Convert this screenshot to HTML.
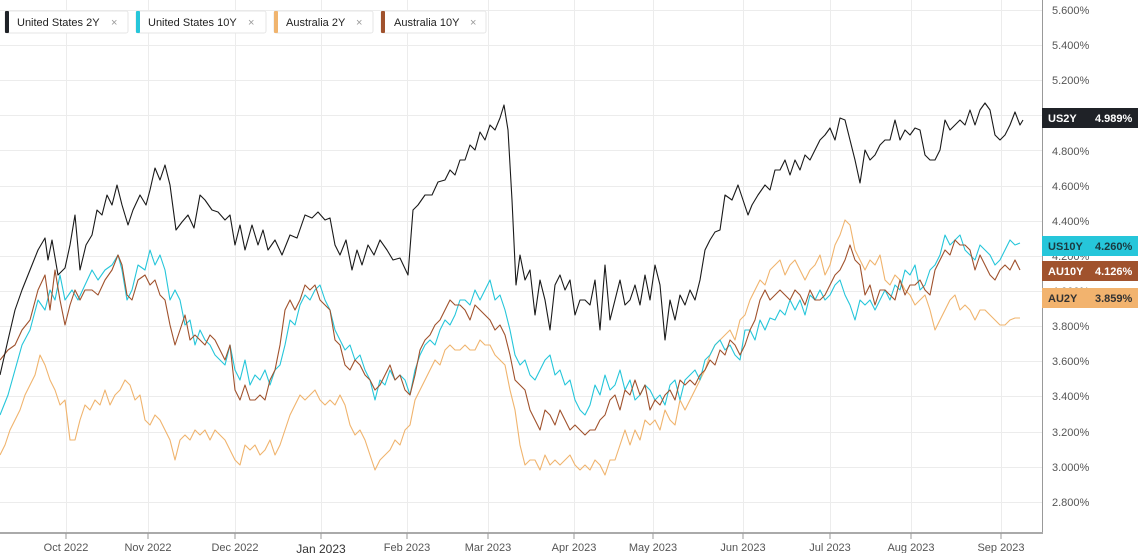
<!DOCTYPE html>
<html><head><meta charset="utf-8"><style>
body{margin:0;background:#fff;font-family:"Liberation Sans",sans-serif;}
svg{display:block}
</style></head><body>
<svg width="1138" height="553" xmlns="http://www.w3.org/2000/svg" font-family="Liberation Sans, sans-serif">
<rect width="1138" height="553" fill="#fff"/>
<g stroke="#ececec" stroke-width="1">
<line x1="0" x2="1042" y1="10.5" y2="10.5"/><line x1="0" x2="1042" y1="45.5" y2="45.5"/><line x1="0" x2="1042" y1="80.5" y2="80.5"/><line x1="0" x2="1042" y1="115.5" y2="115.5"/><line x1="0" x2="1042" y1="150.5" y2="150.5"/><line x1="0" x2="1042" y1="186.5" y2="186.5"/><line x1="0" x2="1042" y1="221.5" y2="221.5"/><line x1="0" x2="1042" y1="256.5" y2="256.5"/><line x1="0" x2="1042" y1="291.5" y2="291.5"/><line x1="0" x2="1042" y1="326.5" y2="326.5"/><line x1="0" x2="1042" y1="361.5" y2="361.5"/><line x1="0" x2="1042" y1="396.5" y2="396.5"/><line x1="0" x2="1042" y1="432.5" y2="432.5"/><line x1="0" x2="1042" y1="467.5" y2="467.5"/><line x1="0" x2="1042" y1="502.5" y2="502.5"/>
<line x1="66.5" x2="66.5" y1="0" y2="533"/><line x1="148.5" x2="148.5" y1="0" y2="533"/><line x1="235.5" x2="235.5" y1="0" y2="533"/><line x1="321.5" x2="321.5" y1="0" y2="533"/><line x1="407.5" x2="407.5" y1="0" y2="533"/><line x1="488.5" x2="488.5" y1="0" y2="533"/><line x1="574.5" x2="574.5" y1="0" y2="533"/><line x1="653.5" x2="653.5" y1="0" y2="533"/><line x1="743.5" x2="743.5" y1="0" y2="533"/><line x1="830.5" x2="830.5" y1="0" y2="533"/><line x1="911.5" x2="911.5" y1="0" y2="533"/><line x1="1001.5" x2="1001.5" y1="0" y2="533"/>
</g>
<line x1="1042.5" y1="0" x2="1042.5" y2="534" stroke="#999"/>
<line x1="0" y1="533" x2="1043" y2="533" stroke="#aaa" stroke-width="2"/>
<g fill="none" stroke-width="1.1" stroke-linejoin="round">
<polyline stroke="#f0b46e" points="0,455 5,445 10,430 15,420 20,410 25,395 30,385 35,375 40,355 45,365 50,380 55,390 60,405 65,400 70,440 75,440 80,420 85,405 90,410 95,400 100,405 105,390 110,405 115,395 120,390 125,380 130,385 135,400 140,395 145,420 150,425 155,415 160,420 165,430 170,440 175,460 180,440 185,435 190,440 195,430 200,435 205,430 210,440 215,430 220,435 225,440 230,450 235,460 240,465 245,445 250,450 255,445 260,455 265,450 270,440 275,455 280,445 285,430 290,415 295,405 300,395 305,400 310,395 315,390 320,400 325,405 330,400 335,405 340,395 345,405 350,425 355,435 360,430 365,440 370,455 375,470 380,460 385,455 390,450 395,440 400,445 405,430 410,425 415,400 420,390 425,380 430,370 435,360 440,365 445,350 450,345 455,350 460,350 465,345 470,350 475,350 480,340 485,345 490,345 495,355 500,360 505,365 510,390 515,410 520,445 525,465 530,460 535,460 540,470 545,455 550,465 555,460 560,465 565,460 570,455 575,465 580,470 585,465 590,470 595,460 600,465 605,475 610,460 615,460 620,445 625,430 630,445 635,430 640,440 645,420 650,425 655,420 660,430 665,410 670,420 675,425 680,400 685,410 690,400 695,390 700,380 705,370 710,355 715,345 720,340 725,335 730,330 735,340 740,320 745,315 750,300 755,290 760,280 765,285 770,270 775,265 780,260 785,275 790,265 795,260 800,270 805,280 810,270 815,265 820,255 825,275 830,265 835,245 840,235 845,220 850,225 855,250 860,260 865,270 870,260 875,265 880,255 885,280 890,285 895,275 900,280 905,290 910,295 915,305 920,300 925,295 930,310 935,330 940,320 945,310 950,300 955,295 960,310 965,305 970,310 975,320 980,310 985,310 990,315 995,320 1000,325 1005,325 1010,320 1015,318 1020,318"/>
<polyline stroke="#26c6da" points="0,415 8,395 15,370 22,345 30,330 38,300 45,310 50,290 55,300 60,275 65,300 72,290 78,300 85,285 92,270 98,280 105,270 112,265 118,255 122,270 127,300 132,290 138,265 145,270 150,250 155,265 160,255 165,270 170,300 175,290 180,300 185,325 190,320 195,345 200,330 205,340 210,345 215,355 220,360 225,365 230,345 235,370 240,380 245,360 250,385 255,375 260,380 265,370 270,385 275,370 280,365 285,345 290,320 295,325 300,305 305,295 310,300 315,290 320,285 325,300 330,310 335,330 340,340 345,350 350,345 355,360 360,355 365,370 370,380 375,400 380,380 385,385 390,370 395,380 400,375 405,380 410,395 415,370 420,355 425,345 430,340 435,345 440,330 445,320 450,325 455,315 460,300 465,300 470,305 475,290 480,300 485,290 490,280 495,300 500,295 505,310 510,330 515,355 520,365 525,360 530,375 535,380 540,370 545,360 550,355 555,375 560,370 565,385 570,380 575,400 580,410 585,415 590,405 595,385 600,395 605,375 610,390 615,385 620,370 625,390 630,380 635,400 640,395 645,385 650,390 655,400 660,395 665,405 670,385 675,380 680,400 685,380 690,375 695,370 700,380 705,360 710,355 715,345 720,340 725,350 730,345 735,355 740,360 745,330 750,330 755,340 760,320 765,330 770,318 775,320 780,310 785,315 790,300 795,310 800,300 805,315 810,295 815,300 820,290 825,300 830,295 835,285 840,280 845,295 850,305 855,320 860,300 865,305 870,300 875,310 880,300 885,290 890,300 895,285 900,290 905,270 910,275 915,265 920,290 925,285 930,270 935,265 940,255 945,235 950,245 955,240 960,235 965,250 970,255 975,260 980,245 985,250 990,255 995,265 1000,260 1005,250 1010,240 1015,245 1020,243"/>
<polyline stroke="#a0522d" points="0,360 8,350 15,345 22,330 30,320 38,290 45,275 50,310 55,270 60,300 65,325 70,305 75,290 80,300 85,290 92,290 98,295 105,280 112,270 118,255 122,265 127,295 132,300 138,280 145,275 150,285 155,280 160,295 165,300 170,325 175,345 180,330 185,315 190,340 195,335 200,340 205,345 210,335 215,340 220,350 225,360 230,345 235,390 240,400 245,385 250,400 255,400 260,395 265,400 270,380 275,370 280,345 285,310 290,300 295,310 300,300 305,285 310,290 315,285 320,300 325,305 330,310 335,340 340,345 345,365 350,370 355,360 360,365 365,375 370,380 375,390 380,385 385,375 390,365 395,380 400,375 405,390 410,395 415,375 420,350 425,340 430,335 435,325 440,320 445,310 450,300 455,305 460,305 465,310 470,320 475,305 480,310 485,315 490,320 495,330 500,325 505,335 510,355 515,380 520,385 525,390 530,410 535,420 540,430 545,410 550,415 555,425 560,410 565,420 570,430 575,425 580,430 585,435 590,430 595,430 600,420 605,415 610,400 615,395 620,410 625,390 630,395 635,380 640,395 645,385 650,410 655,400 660,405 665,395 670,390 675,400 680,380 685,385 690,380 695,385 700,375 705,370 710,360 715,365 720,350 725,355 730,340 735,345 740,355 745,345 750,330 755,320 760,300 765,290 770,300 775,295 780,290 785,295 790,300 795,290 800,295 805,305 810,290 815,300 820,300 825,295 830,285 835,275 840,270 845,260 850,245 855,260 860,265 865,295 870,285 875,305 880,290 885,290 890,295 895,300 900,280 905,295 910,285 915,285 920,280 925,290 930,295 935,270 940,260 945,250 950,255 955,240 960,245 965,245 970,250 975,270 980,255 985,265 990,275 995,280 1000,270 1005,265 1010,270 1015,260 1020,270"/>
<polyline stroke="#1a1a1a" points="0,375 8,340 15,310 22,290 30,270 38,250 45,238 48,260 52,240 58,275 65,268 70,245 75,215 80,270 86,245 92,235 97,210 102,215 107,195 112,205 117,185 122,205 128,225 133,210 140,195 146,205 150,190 155,168 160,180 165,165 170,185 176,230 182,222 188,215 194,228 200,195 205,200 212,210 218,212 225,220 230,215 235,245 240,225 245,250 252,225 258,245 263,230 268,250 275,240 282,255 290,235 297,238 305,215 312,218 318,212 325,220 330,218 335,245 340,255 346,240 352,270 357,250 362,265 368,245 374,255 380,240 387,250 393,260 400,258 408,275 413,210 418,205 425,195 432,195 438,182 445,180 450,170 455,175 460,160 465,160 470,145 475,150 480,132 485,140 490,125 495,130 500,118 504,105 508,130 512,200 516,285 520,255 525,280 530,270 535,315 540,280 545,300 550,330 555,285 560,275 565,290 570,280 575,315 580,300 585,300 590,305 595,280 600,330 605,265 610,320 615,300 620,280 625,305 630,300 635,285 640,305 645,275 650,300 655,265 660,285 665,340 670,300 675,320 680,295 685,305 690,290 695,300 700,280 705,250 710,240 715,232 720,230 725,195 732,200 738,185 743,200 748,215 752,205 758,195 765,185 770,190 775,170 780,170 785,160 790,175 795,160 800,170 805,155 810,160 815,150 820,140 825,135 830,128 835,140 840,118 845,120 850,140 855,160 860,183 865,150 870,160 875,155 880,145 885,140 890,140 895,120 900,140 905,130 910,135 915,128 920,130 925,155 930,160 935,160 940,150 945,120 950,130 955,125 960,120 965,125 970,110 975,125 980,110 985,103 990,110 995,135 1000,140 1005,135 1010,125 1015,112 1020,125 1023,120"/>
</g>
<g font-size="11" fill="#555">
<text x="1052" y="14">5.600%</text><text x="1052" y="49">5.400%</text><text x="1052" y="84">5.200%</text><text x="1052" y="155">4.800%</text><text x="1052" y="190">4.600%</text><text x="1052" y="225">4.400%</text><text x="1052" y="260">4.200%</text><text x="1052" y="295">4.000%</text><text x="1052" y="330">3.800%</text><text x="1052" y="365">3.600%</text><text x="1052" y="400">3.400%</text><text x="1052" y="436">3.200%</text><text x="1052" y="471">3.000%</text><text x="1052" y="506">2.800%</text>
</g>
<g font-size="11" font-weight="bold">
<rect x="1042" y="108" width="96" height="20" fill="#1f2227"/><text x="1048" y="122" fill="#fff">US2Y</text><text x="1095" y="122" fill="#fff">4.989%</text>
<rect x="1042" y="236" width="96" height="20" fill="#26c6da"/><text x="1048" y="250" fill="#1a3a40">US10Y</text><text x="1095" y="250" fill="#1a3a40">4.260%</text>
<rect x="1042" y="261" width="96" height="20" fill="#a0522d"/><text x="1048" y="275" fill="#fff">AU10Y</text><text x="1095" y="275" fill="#fff">4.126%</text>
<rect x="1042" y="288" width="96" height="20" fill="#f2b36e"/><text x="1048" y="302" fill="#333">AU2Y</text><text x="1095" y="302" fill="#333">3.859%</text>
</g>
<g stroke="#999"><line x1="66" x2="66" y1="533" y2="539"/><line x1="148" x2="148" y1="533" y2="539"/><line x1="235" x2="235" y1="533" y2="539"/><line x1="321" x2="321" y1="533" y2="539"/><line x1="407" x2="407" y1="533" y2="539"/><line x1="488" x2="488" y1="533" y2="539"/><line x1="574" x2="574" y1="533" y2="539"/><line x1="653" x2="653" y1="533" y2="539"/><line x1="743" x2="743" y1="533" y2="539"/><line x1="830" x2="830" y1="533" y2="539"/><line x1="911" x2="911" y1="533" y2="539"/><line x1="1001" x2="1001" y1="533" y2="539"/></g>
<g font-size="11" fill="#555" text-anchor="middle">
<text x="66" y="551">Oct 2022</text><text x="148" y="551">Nov 2022</text><text x="235" y="551">Dec 2022</text><text x="321" y="553" font-size="12" fill="#333">Jan 2023</text><text x="407" y="551">Feb 2023</text><text x="488" y="551">Mar 2023</text><text x="574" y="551">Apr 2023</text><text x="653" y="551">May 2023</text><text x="743" y="551">Jun 2023</text><text x="830" y="551">Jul 2023</text><text x="911" y="551">Aug 2023</text><text x="1001" y="551">Sep 2023</text>
</g>
<g font-size="11" fill="#222">
<rect x="5" y="11" width="123" height="22" rx="2" fill="#fff" stroke="#e6e6e6"/><rect x="5" y="11" width="4" height="22" rx="1" fill="#1f2227"/><text x="17" y="26">United States 2Y</text><text x="111" y="26" fill="#999">×</text>
<rect x="136" y="11" width="130" height="22" rx="2" fill="#fff" stroke="#e6e6e6"/><rect x="136" y="11" width="4" height="22" rx="1" fill="#26c6da"/><text x="148" y="26">United States 10Y</text><text x="248" y="26" fill="#999">×</text>
<rect x="274" y="11" width="99" height="22" rx="2" fill="#fff" stroke="#e6e6e6"/><rect x="274" y="11" width="4" height="22" rx="1" fill="#f0b46e"/><text x="286" y="26">Australia 2Y</text><text x="356" y="26" fill="#999">×</text>
<rect x="381" y="11" width="105" height="22" rx="2" fill="#fff" stroke="#e6e6e6"/><rect x="381" y="11" width="4" height="22" rx="1" fill="#a0522d"/><text x="394" y="26">Australia 10Y</text><text x="470" y="26" fill="#999">×</text>
</g>
</svg>
</body></html>
